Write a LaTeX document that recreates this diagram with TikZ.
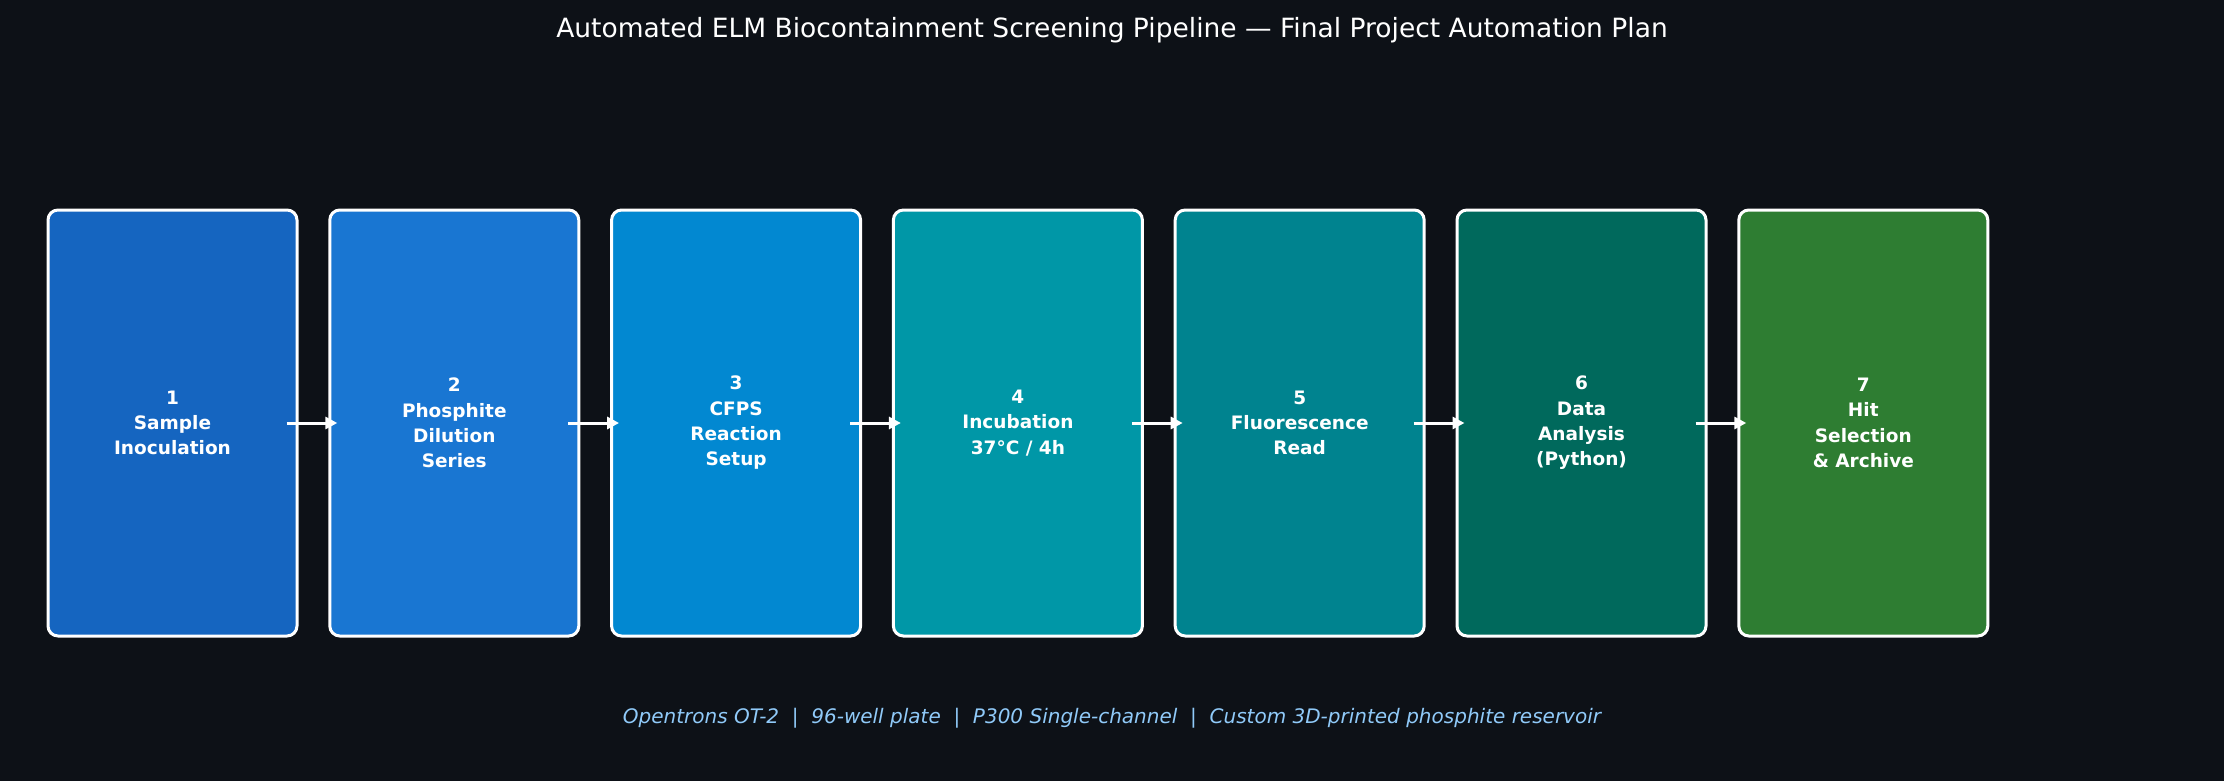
\documentclass[tikz,border=0pt]{standalone}
\usepackage{fontspec}
\setmainfont{DejaVu Sans}
\usetikzlibrary{arrows.meta}
\definecolor{bg}{HTML}{0D1117}
\definecolor{cA}{HTML}{1565C0}
\definecolor{cB}{HTML}{1976D2}
\definecolor{cC}{HTML}{0288D1}
\definecolor{cD}{HTML}{0097A7}
\definecolor{cE}{HTML}{00838F}
\definecolor{cF}{HTML}{00695C}
\definecolor{cG}{HTML}{2E7D32}
\definecolor{foot}{HTML}{90CAF9}
\tikzset{
  stagebox/.style={draw=white, line width=3pt, rounded corners=10pt,
    minimum width=249pt, minimum height=426pt, inner sep=0pt,
    text=white, align=center,
    font=\fontsize{18.5}{25.3}\selectfont\bfseries},
  flowarrow/.style={draw=white, line width=3pt,
    -{Triangle[length=12pt,width=12pt]}},
  titletext/.style={text=white, font=\fontsize{26.5}{30}\selectfont, anchor=base, inner sep=0pt},
  foottext/.style={text=foot, font=\fontsize{20}{24}\selectfont\itshape, anchor=base, inner sep=0pt}
}
\begin{document}
\begin{tikzpicture}[x=1pt,y=-1pt]
\fill[bg] (0,0) rectangle (2224,781);
\useasboundingbox (0,0) rectangle (2224,781);
\node[titletext] (title) at (1112,37.5) {Automated ELM Biocontainment Screening Pipeline — Final Project Automation Plan};
\node[stagebox, fill=cA] (b1) at (172.5,423) {1\\Sample\\Inoculation};
\node[stagebox, fill=cB] (b2) at (454.3,423) {2\\Phosphite\\Dilution\\Series};
\node[stagebox, fill=cC] (b3) at (736.1,423) {3\\CFPS\\Reaction\\Setup};
\node[stagebox, fill=cD] (b4) at (1017.9,423) {4\\Incubation\\37°C / 4h};
\node[stagebox, fill=cE] (b5) at (1299.7,423) {5\\Fluorescence\\Read};
\node[stagebox, fill=cF] (b6) at (1581.5,423) {6\\Data\\Analysis\\(Python)};
\node[stagebox, fill=cG] (b7) at (1863.3,423) {7\\Hit\\Selection\\\& Archive};
\foreach \a/\b in {b1/b2,b2/b3,b3/b4,b4/b5,b5/b6,b6/b7}
  \draw[flowarrow] ([xshift=-12pt]\a.east) -- ([xshift=9pt]\b.west);
\node[foottext] (footer) at (1112,723) {Opentrons OT-2\ \ |\ \ 96-well plate\ \ |\ \ P300 Single-channel\ \ |\ \ Custom 3D-printed phosphite reservoir};
\end{tikzpicture}
\end{document}
